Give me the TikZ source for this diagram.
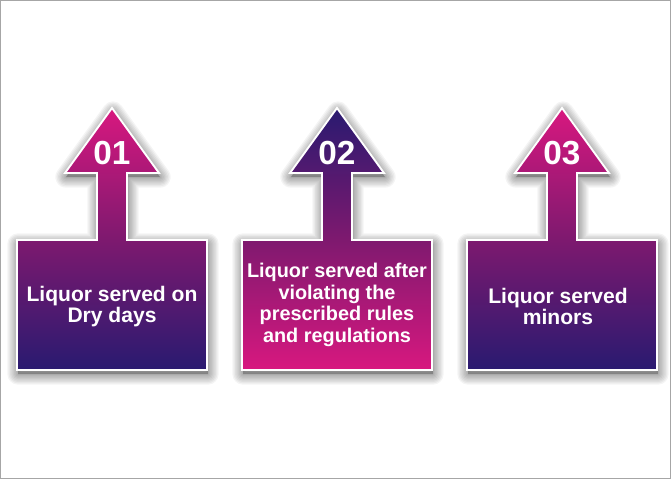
\documentclass[tikz,border=0pt]{standalone}
\usepackage{fontspec}
\setmainfont{Liberation Sans}
\definecolor{magentaA}{HTML}{D8187F}
\definecolor{purpleM}{HTML}{7E196F}
\definecolor{navyB}{HTML}{291A70}
\tikzset{
  arrowbox/.style={draw=white, line width=1.4pt},
  shadowlayer/.style={draw=black, line join=round, draw opacity=0.045},
  numtext/.style={text=white, font=\bfseries\fontsize{25}{28}\selectfont, inner sep=0pt},
  bodytext/.style={text=white, font=\bfseries\fontsize{15.8}{16.4}\selectfont, align=center, inner sep=0pt},
  bodytextsmall/.style={text=white, font=\bfseries\fontsize{14.9}{16.3}\selectfont, align=center, inner sep=0pt}
}
\newcommand{\arrowpath}[1]{%
  (#1,372) -- (#1+47,307) -- (#1+15,307) -- (#1+15,240) -- (#1+95,240) -- (#1+95,110)
  -- (#1-95,110) -- (#1-95,240) -- (#1-15,240) -- (#1-15,307) -- (#1-47,307) -- cycle}
\newcommand{\arrowshadow}[1]{%
  \fill[black, opacity=0.25, shift={(1,-4)}] \arrowpath{#1};
  \foreach \w in {2,4,...,16} {
    \draw[shadowlayer, line width=\w pt, shift={(1,-4)}] \arrowpath{#1};
  }}
\begin{document}
\begin{tikzpicture}[x=0.75pt,y=0.75pt]
\useasboundingbox (0,0) rectangle (672,480);
\fill[white] (0,0) rectangle (672,480);
\draw[gray!70, line width=0.9pt] (0.5,1.5) rectangle (670.5,479.5);

\arrowshadow{112}
\arrowshadow{337}
\arrowshadow{562}

% shape 1
\path[arrowbox, top color=magentaA, bottom color=navyB, middle color=purpleM] \arrowpath{112};
% shape 2
\path[arrowbox, top color=navyB, bottom color=magentaA, middle color=purpleM] \arrowpath{337};
% shape 3
\path[arrowbox, top color=magentaA, bottom color=navyB, middle color=purpleM] \arrowpath{562};

\node[numtext] (n1) at (112,326.5) {01};
\node[numtext] (n2) at (337,326.5) {02};
\node[numtext] (n3) at (562,326.5) {03};

\node[bodytext] (t1) at (112,173.5) {Liquor served on\\Dry days};
\node[bodytextsmall] (t2) at (337,175) {Liquor served after\\violating the\\prescribed rules\\and regulations};
\node[bodytext] (t3) at (558,173.5) {Liquor served\\minors};
\end{tikzpicture}
\end{document}
